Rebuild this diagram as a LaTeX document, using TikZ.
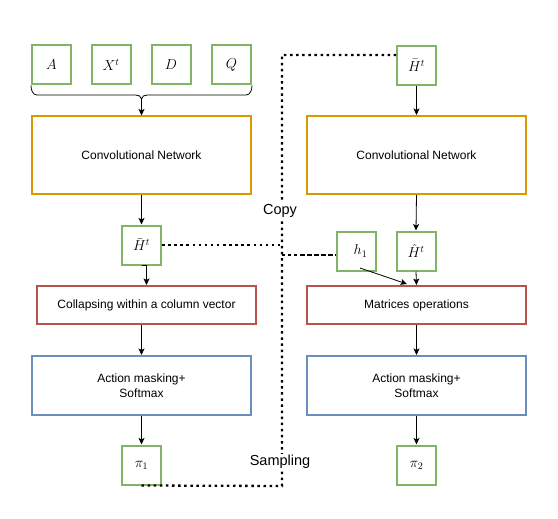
\documentclass[tikz,border=0pt]{standalone}
\usepackage{fontspec}
\setmainfont{Liberation Sans}
\usetikzlibrary{arrows.meta,calc}
\definecolor{dgreen}{HTML}{82B366}
\definecolor{dorange}{HTML}{D79B00}
\definecolor{dred}{HTML}{B85450}
\definecolor{dblue}{HTML}{6C8EBF}
\tikzset{
  sq/.style={draw=dgreen,line width=2pt,minimum width=39pt,minimum height=39pt,inner sep=0pt,font=\fontsize{14}{16}\selectfont},
  bigbox/.style={line width=2pt,minimum width=219pt,inner sep=0pt,align=center,font=\fontsize{12}{15}\selectfont},
  orbox/.style={bigbox,draw=dorange,minimum height=78pt},
  rdbox/.style={bigbox,draw=dred,minimum height=38pt},
  blbox/.style={bigbox,draw=dblue,minimum height=59pt},
  arr/.style={-{Stealth[length=6.5pt,width=6pt,inset=1.5pt]},line width=0.8pt,black},
  mydot/.style={line width=2.3pt,dash pattern=on 2.5pt off 3.6pt,black},
  lbl/.style={fill=white,inner sep=1pt,font=\fontsize{14.5}{16}\selectfont}
}
\begin{document}
\begin{tikzpicture}[x=1pt,y=-1pt]
\useasboundingbox (0,0) rectangle (558,519);
% top row
\node[sq] (A) at (51.5,65) {$A$};
\node[sq] (X) at (111,65) {$X^t$};
\node[sq] (D) at (171,65) {$D$};
\node[sq] (Q) at (231.5,65) {$Q$};
\node[sq] (Hb2) at (416.5,65.5) {$\bar{H}^t$};
% big boxes
\node[orbox] (conv1) at (141.5,155.5) {Convolutional Network};
\node[orbox] (conv2) at (416.5,155) {Convolutional Network};
\node[sq] (Hb) at (141.5,245) {$\bar{H}^t$};
\node[sq] (h1) at (356.5,251) {\hspace*{8pt}$h_1$};
\node[sq] (Hh) at (416,251) {$\hat{H}^t$};
\node[rdbox] (red1) at (146.5,305) {Collapsing within a column vector};
\node[rdbox] (red2) at (416.5,305) {Matrices operations};
\node[blbox] (blue1) at (141.5,385.5) {Action masking+\\Softmax};
\node[blbox] (blue2) at (416.5,385.5) {Action masking+\\Softmax};
\node[sq] (pi1) at (141.5,465) {\raisebox{-5pt}{$\pi_1$}};
\node[sq] (pi2) at (416.5,465) {$\pi_2$};
% brace
\coordinate (tip) at (141.5,99);
\draw[line width=0.8pt] (A.south west) to[out=-90,in=180] (37,95) -- (135.5,95)
  to[out=0,in=90] (tip) to[out=90,in=180] (147.5,95) -- (246,95) to[out=0,in=-90] (Q.south east);
% arrows
\draw[arr] (tip) -- (conv1.north);
\draw[arr] (conv1.south) -- (Hb.north);
\draw[arr] (Hb.south) -| (red1.north);
\draw[arr] (red1.south -| blue1.north) -- (blue1.north);
\draw[arr] (blue1.south) -- (pi1.north);
\draw[arr] (Hb2.south) -- (conv2.north);
\draw[arr] (conv2.south) -- (Hh.north);
\draw[arr] (Hh.south) -- (red2.north);
\draw[arr] ($(h1.center)+(3.5,17)$) -- ($(red2.north)+(-9.5,-1)$);
\draw[arr] (red2.south) -- (blue2.north);
\draw[arr] (blue2.south) -- (pi2.north);
% dotted connectors
\coordinate (s1) at (282,486);
\coordinate (s2) at (282,55);
\coordinate (s3) at (282,255);
\draw[mydot] (pi1.south) -- (s1) -- (s2) -- (s2 -| Hb2.west);
\draw[mydot] (Hb.east) -- (Hb.east -| s1);
\draw[line width=2.3pt,dash pattern=on 2.5pt off 3.6pt on 2.5pt off 3.6pt on 2.5pt off 3pt on 5pt off 2pt on 5pt off 2pt on 5pt off 2pt on 5pt off 2pt on 5pt off 2pt]
  (s3) -- ([yshift=-4pt]h1.west);
\node[lbl] (copy) at (280,211) {Copy};
\node[lbl] (samp) at (280,462) {Sampling};
\end{tikzpicture}
\end{document}
